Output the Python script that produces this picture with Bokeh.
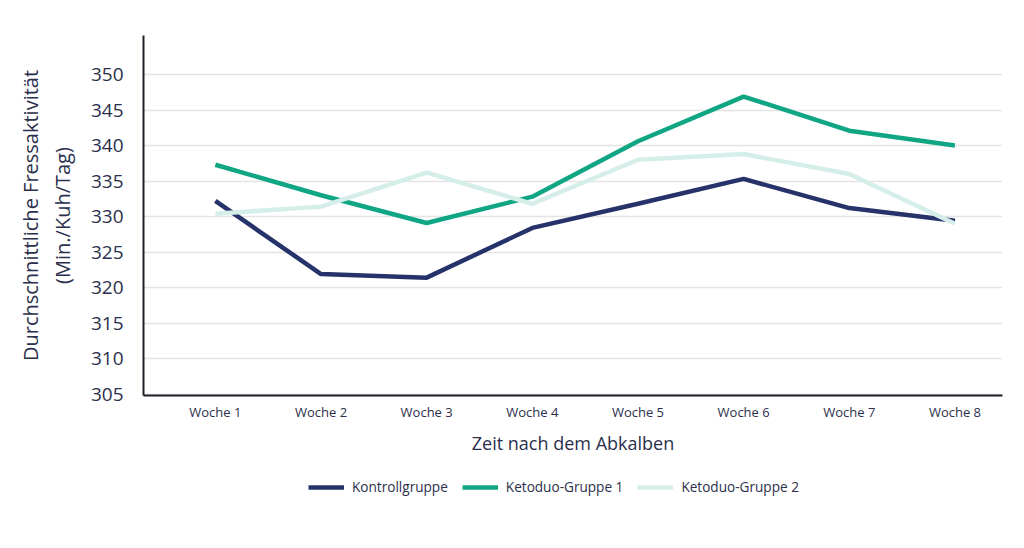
from bokeh.plotting import figure
from bokeh.models import FixedTicker, Legend, LegendItem, Range1d
from bokeh.layouts import column
from bokeh.embed import file_html
from bokeh.resources import INLINE

weeks = ["Woche 1", "Woche 2", "Woche 3", "Woche 4", "Woche 5", "Woche 6", "Woche 7", "Woche 8"]
week_pos = [1, 2, 3, 4, 5, 6, 7, 8]
kontroll = [332.2, 321.9, 321.4, 328.4, 331.8, 335.3, 331.2, 329.4]
keto1 = [337.3, 333.0, 329.1, 332.8, 340.6, 346.9, 342.1, 340.0]
keto2 = [330.4, 331.4, 336.2, 331.8, 338.0, 338.8, 336.0, 329.0]
series_names = ["Kontrollgruppe", "Ketoduo-Gruppe 1", "Ketoduo-Gruppe 2"]
y_ticks = [305, 310, 315, 320, 325, 330, 335, 340, 345, 350]

colors = ["#26336a", "#10a684", "#d6eee9"]
text_col = "#2b2f4c"
font = "Open Sans"

p = figure(width=1008, height=463, output_backend="svg", toolbar_location=None,
           x_range=Range1d(0.32, 8.45), y_range=Range1d(304.8, 355.5),
           min_border_left=143, min_border_right=6, min_border_top=35, min_border_bottom=68)
p.outline_line_color = None
p.background_fill_color = "white"
p.border_fill_color = "white"

for ys, c in zip([kontroll, keto1, keto2], colors):
    p.line(week_pos, ys, line_color=c, line_width=4.5)

p.xaxis.ticker = FixedTicker(ticks=week_pos)
p.xaxis.major_label_overrides = {w: lab for w, lab in zip(week_pos, weeks)}
p.yaxis.ticker = FixedTicker(ticks=y_ticks)

p.xgrid.grid_line_color = None
p.ygrid.ticker = FixedTicker(ticks=y_ticks)
p.ygrid.grid_line_color = "#e4e4e4"
p.ygrid.grid_line_width = 1.5

for ax in (p.xaxis, p.yaxis):
    ax.major_tick_line_color = None
    ax.minor_tick_line_color = None
    ax.axis_line_color = "#1e1e28"
    ax.axis_line_width = 2
    ax.major_label_text_color = text_col
    ax.major_label_text_font = font
    ax.axis_label_text_color = text_col
    ax.axis_label_text_font = font
    ax.axis_label_text_font_style = "normal"

p.xaxis.major_label_text_font_size = "13px"
p.xaxis.major_label_standoff = 1
p.xaxis.axis_label = "Zeit nach dem Abkalben"
p.xaxis.axis_label_text_font_size = "18px"
p.xaxis.axis_label_standoff = 7

p.yaxis.major_label_text_font_size = "19px"
p.yaxis.major_label_standoff = 14
p.yaxis.axis_label = "Durchschnittliche Fressaktivität\n(Min./Kuh/Tag)"
p.yaxis.axis_label_text_font_size = "20px"
p.yaxis.axis_label_standoff = 12

# legend figure (lines out of its visible range; only the legend shows)
leg = figure(width=1008, height=69, output_backend="svg", toolbar_location=None,
             x_range=Range1d(0, 1), y_range=Range1d(0, 1),
             x_axis_location=None, y_axis_location=None,
             min_border_left=0, min_border_right=0, min_border_top=0, min_border_bottom=0)
leg.outline_line_color = None
leg.grid.grid_line_color = None
items = []
for ys, c, name in zip([kontroll, keto1, keto2], colors, series_names):
    r = leg.line(week_pos, ys, line_color=c, line_width=4.5)
    items.append(LegendItem(label=name, renderers=[r]))

legend = Legend(items=items, orientation="horizontal", location=(165, 36),
                label_text_font=font, label_text_font_size="13.6px", label_text_color=text_col,
                glyph_width=36, glyph_height=14, spacing=14, label_standoff=8,
                border_line_color=None, background_fill_alpha=0, margin=0, padding=4)
leg.add_layout(legend, "center")

open("out.html", "w").write(file_html(column(p, leg), INLINE))
